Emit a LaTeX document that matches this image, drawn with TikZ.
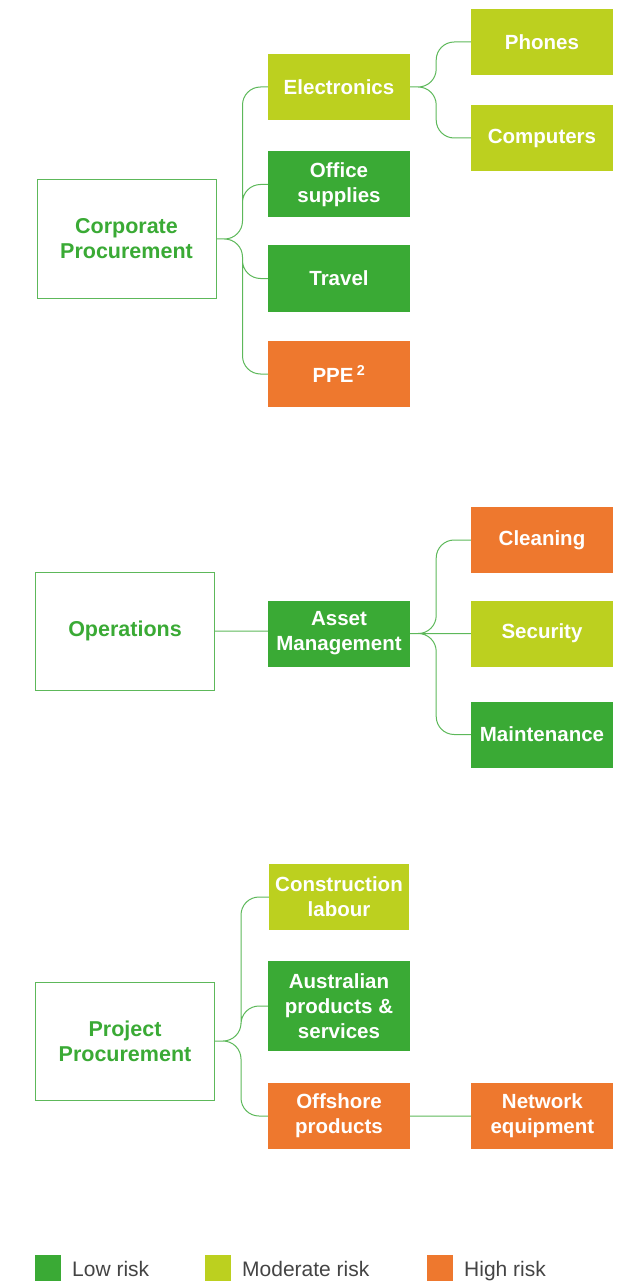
\documentclass[tikz,border=0pt]{standalone}
\usepackage{fontspec}
\setmainfont{Liberation Sans}
\usetikzlibrary{positioning}

\definecolor{lowrisk}{HTML}{3AAA35}
\definecolor{modrisk}{HTML}{BCD01F}
\definecolor{highrisk}{HTML}{EE782E}
\definecolor{linkgreen}{HTML}{5DB85A}
\definecolor{legendgray}{HTML}{444444}

\begin{document}
\begin{tikzpicture}[x=1pt,y=-1pt,
        every node/.style={font=\fontsize{20.5}{25}\selectfont\bfseries,
          align=center,inner sep=0pt},
        root/.style={draw=linkgreen,line width=1pt,text=lowrisk,
          font=\fontsize{21.5}{25}\selectfont\bfseries,
          minimum width=179pt,minimum height=118pt},
        leaf/.style={text=white,minimum width=142pt,minimum height=66pt},
        link/.style={draw=linkgreen,line width=1pt,rounded corners=18pt},
        branch/.style={to path={-- ([xshift=26pt]\tikztostart) |- (\tikztotarget)}},
        key/.style={minimum size=26pt},
        keytext/.style={font=\fontsize{21}{21}\selectfont\mdseries,
          text=legendgray,anchor=base west}]
      \useasboundingbox (0,0) rectangle (624,1281);

      % corporate procurement
      \node[root] (corp) at (126.5,239) {Corporate\\Procurement};
      \node[leaf,fill=modrisk] (elec) at (339,87) {Electronics};
      \node[leaf,fill=lowrisk] (office) at (339,184.5) {Office\\supplies};
      \node[leaf,fill=lowrisk] (travel) at (339,278.5) {Travel};
      \node[leaf,fill=highrisk] (ppe) at (339,374) {PPE\,\textsuperscript{2}};
      \node[leaf,fill=modrisk] (phones) at (542,42) {Phones};
      \node[leaf,fill=modrisk] (comp) at (542,138) {Computers};
      \path[link] (corp.east) to[branch] (elec.west)
      (corp.east) to[branch] (office.west)
      (corp.east) to[branch] (travel.west)
      (corp.east) to[branch] (ppe.west)
      (elec.east) to[branch] (phones.west)
      (elec.east) to[branch] (comp.west);

      % operations
      \node[root] (ops) at (125,631) {Operations};
      \node[leaf,fill=lowrisk] (asset) at (339,633.5) {Asset\\Management};
      \node[leaf,fill=highrisk] (clean) at (542,540) {Cleaning};
      \node[leaf,fill=modrisk] (secur) at (542,633.5) {Security};
      \node[leaf,fill=lowrisk] (maint) at (542,734.5) {Maintenance};
      \path[link] (ops.east) -- (ops.east -| asset.west)
      (asset.east) to[branch] (clean.west)
      (asset.east) -- (secur.west)
      (asset.east) to[branch] (maint.west);

      % project procurement
      \node[root] (proj) at (125,1041) {Project\\Procurement};
      \node[leaf,fill=modrisk,minimum width=140pt] (labour) at (339,897) {Construction\\labour};
      \node[leaf,fill=lowrisk,minimum height=90pt] (austr) at (339,1006) {Australian\\products \&\\services};
      \node[leaf,fill=highrisk] (offsh) at (339,1116) {Offshore\\products};
      \node[leaf,fill=highrisk] (netw) [right=61pt of offsh] {Network\\equipment};
      \path[link] (proj.east) to[branch] (labour.west)
      (proj.east) to[branch] (austr.west)
      (proj.east) to[branch] (offsh.west)
      (offsh.east) -- (netw.west);

      % legend
      \node[key,fill=lowrisk,anchor=north west] (lowkey) at (35,1255) {};
      \node[keytext] (lowtxt) at (72,1276) {Low risk};
      \node[key,fill=modrisk,anchor=north west] (modkey) at (205,1255) {};
      \node[keytext] (modtxt) at (242,1276) {Moderate risk};
      \node[key,fill=highrisk,anchor=north west] (highkey) at (427,1255) {};
      \node[keytext] (hightxt) at (464,1276) {High risk};
    \end{tikzpicture}
\end{document}
